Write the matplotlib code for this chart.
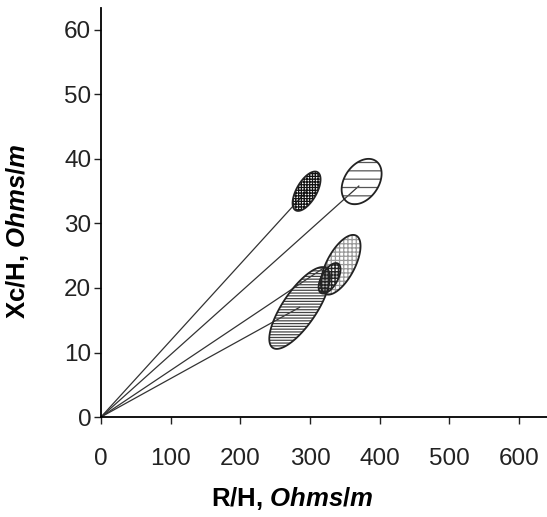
import numpy as np
import matplotlib
matplotlib.use("Agg")
import matplotlib.pyplot as plt
from matplotlib.patches import Polygon

plt.rcParams['font.family'] = ['Liberation Sans', 'DejaVu Sans']
plt.rcParams['mathtext.fontset'] = 'custom'
plt.rcParams['mathtext.it'] = 'Liberation Sans:bold:italic'
plt.rcParams['mathtext.rm'] = 'Liberation Sans:bold'
plt.rcParams['hatch.linewidth'] = 0.9

# ellipse centres (R/H, Xc/H)
ell_x = [295, 374, 344, 285, 328]
ell_y = [35.0, 36.5, 23.6, 16.9, 21.5]
# semi axes and tilt, in screen pixels / degrees
ell_a = [22, 25, 33, 48, 17]
ell_b = [10, 17, 14, 17, 8]
ell_ang = [60, 55, 62, 56, 60]
ell_hatch = ['++++++', '--', '++++', '------', '+++++']
ell_hcol = ['#111111', '#555555', '#9a9a9a', '#444444', '#222222']

# lines from origin
line_x = [295, 370, 325, 285]
line_y = [35.0, 35.8, 23.5, 17.0]

xticks = [0, 100, 200, 300, 400, 500, 600]
yticks = [0, 10, 20, 30, 40, 50, 60]

fig = plt.figure(figsize=(5.47, 5.17), dpi=100)
ax = fig.add_axes([0.1846, 0.1934, 0.8154, 0.7911])
ax.set_xlim(0, 640)
ax.set_ylim(0, 63.4)

# pixels per data unit
fig.canvas.draw()
bb = ax.get_window_extent()
px_x = bb.width / 640
px_y = bb.height / 63.4

for lx, ly in zip(line_x, line_y):
    ax.plot([0, lx], [0, ly], color='#333333', lw=0.9, zorder=2)

t = np.linspace(0, 2 * np.pi, 200)
order = [3, 2, 4, 0, 1]
for i in order:
    th = np.deg2rad(ell_ang[i])
    u = ell_a[i] * np.cos(t) * np.cos(th) - ell_b[i] * np.sin(t) * np.sin(th)
    v = ell_a[i] * np.cos(t) * np.sin(th) + ell_b[i] * np.sin(t) * np.cos(th)
    pts = np.column_stack([ell_x[i] + u / px_x, ell_y[i] + v / px_y])
    ax.add_patch(Polygon(pts, closed=True, facecolor='none', edgecolor=ell_hcol[i],
                         hatch=ell_hatch[i], lw=0, zorder=3))
    ax.add_patch(Polygon(pts, closed=True, facecolor='none', edgecolor='#222222',
                         lw=1.3, zorder=4))

ax.spines['top'].set_visible(False)
ax.spines['right'].set_visible(False)
ax.spines['left'].set_linewidth(1.3)
ax.spines['bottom'].set_linewidth(1.3)
ax.set_xticks(xticks)
ax.set_yticks(yticks)
ax.tick_params(labelsize=17.5, length=5, width=1, color='#222222', labelcolor='#222222')
ax.tick_params(axis='x', pad=17)
ax.tick_params(axis='y', pad=2)
ax.set_xlabel(r'R/H, $Ohms/m$', fontsize=18.5, fontweight='bold')
ax.set_ylabel(r'Xc/H, $Ohms/m$', fontsize=18.5, fontweight='bold')
ax.xaxis.set_label_coords(0.428, -0.166)
ax.yaxis.set_label_coords(-0.157, 0.455)

fig.savefig('out.png', dpi=100)
